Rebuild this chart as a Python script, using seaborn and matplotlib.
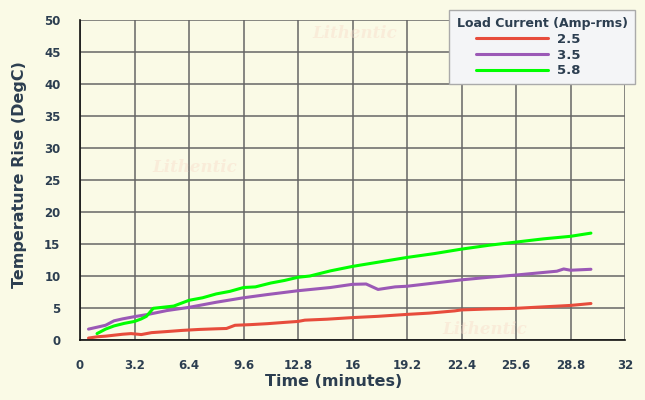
import matplotlib
matplotlib.use("Agg")
import matplotlib.pyplot as plt
import seaborn as sns
import pandas as pd

# time (minutes) and temperature rise (DegC) per load current
t_25 = [0.5, 1.0, 1.5, 2.0, 2.5, 3.0, 3.6, 4.2, 5.0, 6.0, 7.0, 8.0, 8.6, 9.1, 10.0,
        11.0, 12.0, 12.8, 13.2, 14.5, 16.0, 17.5, 19.2, 20.5, 22.0, 22.4, 24.0,
        25.6, 27.0, 28.8, 30.0]
y_25 = [0.3, 0.5, 0.6, 0.75, 0.9, 1.0, 0.85, 1.15, 1.3, 1.5, 1.65, 1.75, 1.8, 2.3, 2.4,
        2.55, 2.75, 2.9, 3.1, 3.25, 3.5, 3.7, 4.0, 4.2, 4.55, 4.7, 4.85,
        4.95, 5.15, 5.4, 5.7]

t_35 = [0.5, 1.0, 1.5, 2.0, 2.5, 3.2, 4.0, 5.1, 6.4, 8.0, 9.6, 11.0, 12.8, 14.7,
        16.0, 16.8, 17.5, 18.5, 19.2, 20.8, 22.4, 24.0, 25.6, 27.0, 28.0, 28.4,
        28.8, 30.0]
y_35 = [1.7, 2.0, 2.3, 3.0, 3.3, 3.65, 4.0, 4.6, 5.1, 5.9, 6.6, 7.1, 7.7, 8.2,
        8.7, 8.75, 7.9, 8.3, 8.4, 8.9, 9.4, 9.8, 10.15, 10.5, 10.75, 11.1,
        10.9, 11.05]

t_58 = [1.0, 1.5, 2.0, 2.6, 3.2, 3.6, 3.9, 4.3, 5.5, 6.4, 7.2, 8.0, 8.8, 9.6, 10.3,
        11.2, 12.0, 12.8, 13.5, 14.7, 16.0, 17.6, 19.2, 20.8, 22.4, 24.0, 25.6,
        27.2, 28.8, 30.0]
y_58 = [1.0, 1.7, 2.2, 2.6, 2.9, 3.3, 3.7, 4.95, 5.3, 6.2, 6.6, 7.2, 7.6, 8.2, 8.3,
        8.9, 9.3, 9.8, 10.0, 10.8, 11.5, 12.2, 12.9, 13.5, 14.2, 14.8, 15.3,
        15.8, 16.2, 16.7]

labels = ["2.5", "3.5", "5.8"]
colors = ["#E74C3C", "#9B59B6", "#00FF00"]
x_ticks = [0, 3.2, 6.4, 9.6, 12.8, 16, 19.2, 22.4, 25.6, 28.8, 32]
x_tick_labels = ["0", "3.2", "6.4", "9.6", "12.8", "16", "19.2", "22.4", "25.6", "28.8", "32"]
y_ticks = [0, 5, 10, 15, 20, 25, 30, 35, 40, 45, 50]

df = pd.concat([
    pd.DataFrame({"time": t_25, "temp": y_25, "current": labels[0]}),
    pd.DataFrame({"time": t_35, "temp": y_35, "current": labels[1]}),
    pd.DataFrame({"time": t_58, "temp": y_58, "current": labels[2]}),
])

bg = "#FAFAE6"
text_col = "#2C3E50"
sns.set_style("white", {"axes.facecolor": bg, "figure.facecolor": bg})
plt.rcParams["font.family"] = ["DejaVu Sans"]

fig = plt.figure(figsize=(6.45, 4.0), dpi=100)
ax = fig.add_axes([80 / 645, 60 / 400, 545 / 645, 320 / 400])

# faint watermarks
for (wx, wy) in [(312, 33), (152, 168), (442, 330)]:
    fig.text(wx / 645, 1 - wy / 400, "Lithentic", color="#F8DCCB", alpha=0.45,
             fontsize=12, fontstyle="italic", fontweight="bold", family="DejaVu Serif",
             va="center", ha="left", zorder=0)

sns.lineplot(data=df, x="time", y="temp", hue="current", palette=colors,
             linewidth=2.2, ax=ax, sort=False, legend=True)

ax.set_xlim(0, 32)
ax.set_ylim(0, 50)
ax.set_xticks(x_ticks)
ax.set_xticklabels(x_tick_labels)
ax.set_yticks(y_ticks)
ax.grid(True, color="#666666", linewidth=1.1)
ax.set_axisbelow(True)
for s in ["top", "right"]:
    ax.spines[s].set_visible(False)
for s in ["left", "bottom"]:
    ax.spines[s].set_color("#111111")
    ax.spines[s].set_linewidth(1.2)
    ax.spines[s].set_zorder(3)
ax.tick_params(axis="both", length=9, width=1.1, color="#666666", labelsize=8.5,
               labelcolor=text_col, pad=5)
for lbl in ax.get_xticklabels() + ax.get_yticklabels():
    lbl.set_fontweight("bold")

ax.set_xlabel("Time (minutes)", fontsize=11.5, fontweight="bold", color=text_col)
ax.set_ylabel("Temperature Rise (DegC)", fontsize=11.5, fontweight="bold", color=text_col)
ax.xaxis.set_label_coords((334 - 80) / 545, -(381 - 340) / 320)
ax.yaxis.set_label_coords((20 - 80) / 545, (340 - 175) / 320)
ax.xaxis.label.set_va("center")
ax.yaxis.label.set_va("center")

handles, _ = ax.get_legend_handles_labels()
leg_labels = [lab + "      " for lab in labels]
leg = ax.legend(handles, leg_labels, title="Load Current (Amp-rms)", loc="upper right",
                bbox_to_anchor=(635 / 645, 1 - 10 / 400), bbox_transform=fig.transFigure,
                borderaxespad=0, frameon=True, fancybox=False, handlelength=5.4,
                handletextpad=0.7, fontsize=9.5, title_fontsize=9, labelspacing=0.2,
                borderpad=0.55)
leg.get_title().set_fontweight("bold")
leg.get_title().set_color(text_col)
for txt in leg.get_texts():
    txt.set_fontweight("bold")
    txt.set_color(text_col)
leg.get_frame().set_facecolor("#F4F5F7")
leg.get_frame().set_edgecolor("#AAAAAA")
leg.get_frame().set_alpha(1)
for line in leg.get_lines():
    line.set_linewidth(2.2)

fig.savefig("out.png", dpi=100, facecolor=bg)
